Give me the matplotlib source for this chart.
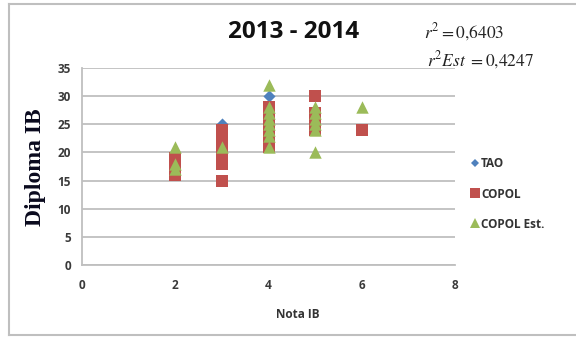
import matplotlib
matplotlib.use("Agg")
import matplotlib.pyplot as plt
from matplotlib.lines import Line2D

# Scores: IB grade (x) vs. diploma score (y)
tao_x = [3, 4]
tao_y = [25, 30]

copol_x = [2, 2, 2, 2,
           3, 3, 3, 3, 3, 3, 3, 3,
           4, 4, 4, 4, 4, 4, 4, 4,
           5, 5, 5, 5, 5,
           6]
copol_y = [16, 17, 18, 19,
           15, 18, 19, 20, 21, 22, 23, 24,
           21, 22, 23, 24, 25, 26, 27, 28,
           24, 25, 26, 27, 30,
           24]

est_x = [2, 2, 2,
         3,
         4, 4, 4, 4, 4, 4, 4, 4,
         5, 5, 5, 5, 5, 5,
         6]
est_y = [17, 18, 21,
         21,
         21, 23, 24, 25, 26, 27, 28, 32,
         20, 24, 25, 26, 27, 28,
         28]

x_ticks = [0, 2, 4, 6, 8]
y_ticks = [0, 5, 10, 15, 20, 25, 30, 35]

title = "2013 - 2014"
r2_text = r"$r^2 = 0{,}6403$"
r2est_text = r"$r^2 Est\ {=}0{,}4247$"

blue = "#4F81BD"
red = "#C0504D"
green = "#9BBB59"
grid_c = "#BFBFBF"
sans = "Open Sans"

plt.rcParams["mathtext.fontset"] = "stix"

fig = plt.figure(figsize=(5.76, 3.37), dpi=100)
fig.patch.set_facecolor("white")

# outer chart frame (left, top, bottom edges)
fx0 = 8.5 / 576
fy_top = 1 - 3.5 / 337
fy_bot = 1 - 334.5 / 337
for xs, ys in [([fx0, fx0], [fy_bot, fy_top]),
               ([fx0, 1.0], [fy_top, fy_top]),
               ([fx0, 1.0], [fy_bot, fy_bot])]:
    fig.add_artist(Line2D(xs, ys, transform=fig.transFigure,
                          color="#BFBFBF", linewidth=1.5))

ax = fig.add_axes([82 / 576, (337 - 265) / 337, (455 - 82) / 576, (265 - 68) / 337])
ax.set_xlim(0, 8)
ax.set_ylim(0, 35)
ax.set_xticks(x_ticks)
ax.set_yticks(y_ticks)
ax.yaxis.grid(True, color=grid_c, linewidth=1.3)
ax.set_axisbelow(True)
for s in ["top", "right"]:
    ax.spines[s].set_visible(False)
for s in ["left", "bottom"]:
    ax.spines[s].set_color(grid_c)
    ax.spines[s].set_linewidth(1.3)
ax.tick_params(length=0, pad=8, labelsize=8.5, labelcolor="#3A3A3A")
for lab in ax.get_xticklabels() + ax.get_yticklabels():
    lab.set_fontfamily(sans)
    lab.set_fontweight("bold")
ax.tick_params(axis="x", pad=10)

ax.scatter(tao_x, tao_y, marker="D", s=38, color=blue, linewidths=0, zorder=3)
ax.scatter(copol_x, copol_y, marker="s", s=72, color=red, linewidths=0, zorder=4)
ax.scatter(est_x, est_y, marker="^", s=80, color=green, linewidths=0, zorder=5)

fig.text(294 / 576, 1 - 32 / 337, title, ha="center", va="center",
         fontsize=17.5, fontweight="bold", family=sans, color="#111111")
fig.text(424 / 576, 1 - 32 / 337, r2_text, ha="left", va="center",
         fontsize=12.5, color="#222222")
fig.text(427 / 576, 1 - 60 / 337, r2est_text, ha="left", va="center",
         fontsize=12.5, color="#222222")

fig.text(35 / 576, 1 - 167 / 337, "Diploma IB", rotation=90, ha="center",
         va="center", fontsize=17, fontweight="bold", family="Liberation Serif",
         color="#0A0A1E")
fig.text(298 / 576, 1 - 315 / 337, "Nota IB", ha="center", va="center",
         fontsize=8.5, fontweight="bold", family=sans, color="#333333")

handles = [
    Line2D([], [], marker="D", linestyle="none", color=blue, markersize=4.5, markeredgewidth=0),
    Line2D([], [], marker="s", linestyle="none", color=red, markersize=6.5, markeredgewidth=0),
    Line2D([], [], marker="^", linestyle="none", color=green, markersize=6.5, markeredgewidth=0),
]
leg = fig.legend(handles, ["TAO", "COPOL", "COPOL Est."],
                 loc="center left", bbox_to_anchor=(461 / 576, 1 - 194 / 337),
                 frameon=False, handlelength=0.6, handletextpad=0.2,
                 labelspacing=1.45, prop={"family": sans, "size": 8.5, "weight": "bold"})
for t in leg.get_texts():
    t.set_color("#333333")

fig.savefig("out.png", dpi=100, facecolor="white")
